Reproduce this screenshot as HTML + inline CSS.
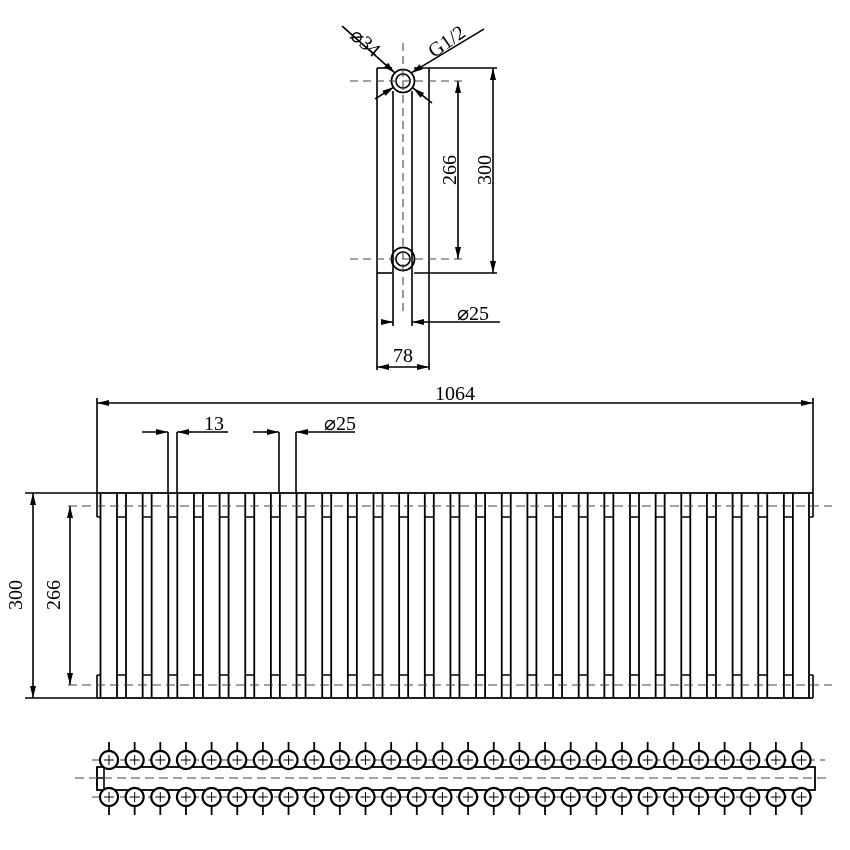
<!DOCTYPE html>
<html><head><meta charset="utf-8"><style>html,body{margin:0;padding:0;background:#fff}svg{display:block}</style></head>
<body>
<svg id="s" width="850" height="850" viewBox="0 0 850 850" xmlns="http://www.w3.org/2000/svg" font-family="Liberation Serif, serif" font-size="20">
<defs>
<marker id="a" viewBox="0 0 12 6" refX="12" refY="3" markerWidth="12" markerHeight="6" orient="auto" markerUnits="userSpaceOnUse"><path d="M0,0 L12,3 L0,6 Z" fill="#000"/></marker>
</defs>
<g stroke="#000" stroke-width="1.6" fill="none">
<!-- side view -->
<line x1="377" y1="68" x2="377" y2="370"/>
<line x1="429" y1="68" x2="429" y2="370"/>
<line x1="377" y1="68" x2="392" y2="68"/>
<line x1="414" y1="68" x2="497" y2="68"/>
<line x1="377" y1="273" x2="392" y2="273"/>
<line x1="414" y1="273" x2="497" y2="273"/>
<line x1="393" y1="91" x2="393" y2="326"/>
<line x1="412" y1="91" x2="412" y2="326"/>
<circle cx="403" cy="81" r="11.5" stroke-width="1.8"/>
<circle cx="403" cy="81" r="7"/>
<circle cx="403" cy="259" r="11.5" stroke-width="1.8"/>
<circle cx="403" cy="259" r="7"/>
<g stroke-dasharray="8,5" stroke="#444" stroke-width="1.1">
<line x1="403" y1="43" x2="403" y2="312"/>
<line x1="350" y1="81" x2="462" y2="81"/>
<line x1="350" y1="259" x2="462" y2="259"/>
</g>
<line x1="458" y1="170" x2="458" y2="81" marker-end="url(#a)"/>
<line x1="458" y1="170" x2="458" y2="259" marker-end="url(#a)"/>
<line x1="493" y1="170" x2="493" y2="68" marker-end="url(#a)"/>
<line x1="493" y1="170" x2="493" y2="273" marker-end="url(#a)"/>
<line x1="384" y1="322" x2="393" y2="322" marker-end="url(#a)"/>
<line x1="500" y1="322" x2="412" y2="322" marker-end="url(#a)"/>
<line x1="403" y1="367" x2="377" y2="367" marker-end="url(#a)"/>
<line x1="403" y1="367" x2="429" y2="367" marker-end="url(#a)"/>
<line x1="342" y1="26" x2="395" y2="73" marker-end="url(#a)"/>
<line x1="484" y1="29" x2="411" y2="73" marker-end="url(#a)"/>
<line x1="375" y1="99" x2="394" y2="87" marker-end="url(#a)"/>
<line x1="432" y1="103" x2="413" y2="88" marker-end="url(#a)"/>
<!-- front view dims -->
<line x1="97" y1="398" x2="97" y2="493"/>
<line x1="813" y1="398" x2="813" y2="493"/>
<line x1="455" y1="403" x2="97" y2="403" marker-end="url(#a)"/>
<line x1="455" y1="403" x2="813" y2="403" marker-end="url(#a)"/>
<line x1="168" y1="432" x2="168" y2="493"/>
<line x1="177" y1="432" x2="177" y2="493"/>
<line x1="142" y1="432" x2="168" y2="432" marker-end="url(#a)"/>
<line x1="228" y1="432" x2="177" y2="432" marker-end="url(#a)"/>
<line x1="279" y1="432" x2="279" y2="493"/>
<line x1="296" y1="432" x2="296" y2="493"/>
<line x1="253" y1="432" x2="279" y2="432" marker-end="url(#a)"/>
<line x1="355" y1="432" x2="296" y2="432" marker-end="url(#a)"/>
<line x1="25" y1="493" x2="97" y2="493"/>
<line x1="25" y1="698" x2="97" y2="698"/>
<line x1="33" y1="595" x2="33" y2="493" marker-end="url(#a)"/>
<line x1="33" y1="595" x2="33" y2="698" marker-end="url(#a)"/>
<line x1="70" y1="595" x2="70" y2="506" marker-end="url(#a)"/>
<line x1="70" y1="595" x2="70" y2="685" marker-end="url(#a)"/>
<!-- front body -->
<line x1="97" y1="493" x2="813" y2="493" stroke-width="1.8"/>
<line x1="97" y1="698" x2="813" y2="698" stroke-width="1.8"/>
<path d="M97,493 V517 M97,675 V698 M813,493 V517 M813,675 V698 M97,517 H100 M97,675 H100 M809,517 H813 M809,675 H813"/>
<line x1="100.5" y1="493" x2="100.5" y2="698" stroke-width="1.8"/>
<line x1="809" y1="493" x2="809" y2="698" stroke-width="1.8"/>
<g id="cols" stroke-width="1.8"></g>
<g stroke-dasharray="9,5" stroke="#444" stroke-width="1.1">
<line x1="68" y1="506" x2="832" y2="506"/>
<line x1="68" y1="685" x2="832" y2="685"/>
</g>
<!-- bottom view -->
<rect x="97" y="767" width="718" height="23" stroke-width="1.8"/>
<path d="M97,767 V790 M104,767 V790 M97,778 H104"/>
<g stroke-dasharray="9,5" stroke="#444" stroke-width="1.1">
<line x1="75" y1="778" x2="830" y2="778"/>
<line x1="92" y1="760" x2="825" y2="760"/>
<line x1="92" y1="797" x2="812" y2="797"/>
</g>
<g id="circ"></g>
</g>
<g fill="#000" stroke="none">
<text x="449" y="177" transform="rotate(-90 449 170)" text-anchor="middle">266</text>
<text x="484" y="177" transform="rotate(-90 484 170)" text-anchor="middle">300</text>
<text x="473" y="320" text-anchor="middle">⌀25</text>
<text x="403" y="362" text-anchor="middle">78</text>
<text x="365" y="49" transform="rotate(40 365 43)" text-anchor="middle">⌀34</text>
<text x="447" y="48" transform="rotate(-35 447 42)" text-anchor="middle">G1/2</text>
<text x="455" y="400" text-anchor="middle">1064</text>
<text x="214" y="430" text-anchor="middle">13</text>
<text x="340" y="430" text-anchor="middle">⌀25</text>
<text x="15" y="602" transform="rotate(-90 15 595)" text-anchor="middle">300</text>
<text x="53" y="602" transform="rotate(-90 53 595)" text-anchor="middle">266</text>
</g>
</svg>
<script>
var ns="http://www.w3.org/2000/svg";
function L(g,x1,y1,x2,y2,sw){var l=document.createElementNS(ns,"line");l.setAttribute("x1",x1);l.setAttribute("y1",y1);l.setAttribute("x2",x2);l.setAttribute("y2",y2);if(sw)l.setAttribute("stroke-width",sw);g.appendChild(l);}
var cols=document.getElementById("cols"),p=25.65;
for(var k=0;k<27;k++){var a=117+p*k,b=126+p*k;L(cols,a,493,a,698);L(cols,b,493,b,698);L(cols,a,517,b,517,1.5);L(cols,a,675,b,675,1.5);}
var c=document.getElementById("circ");
for(var i=0;i<28;i++){var x=109+p*i;
[760,797].forEach(function(y){var e=document.createElementNS(ns,"circle");e.setAttribute("cx",x);e.setAttribute("cy",y);e.setAttribute("r",9);e.setAttribute("fill","#fff");e.setAttribute("stroke-width","2.2");c.appendChild(e);
L(c,x,y-5,x,y+5,1);L(c,x-5,y,x+5,y,1);});
L(c,x,742,x,751,1.8);L(c,x,806,x,815,1.8);}
</script>
</body></html>
